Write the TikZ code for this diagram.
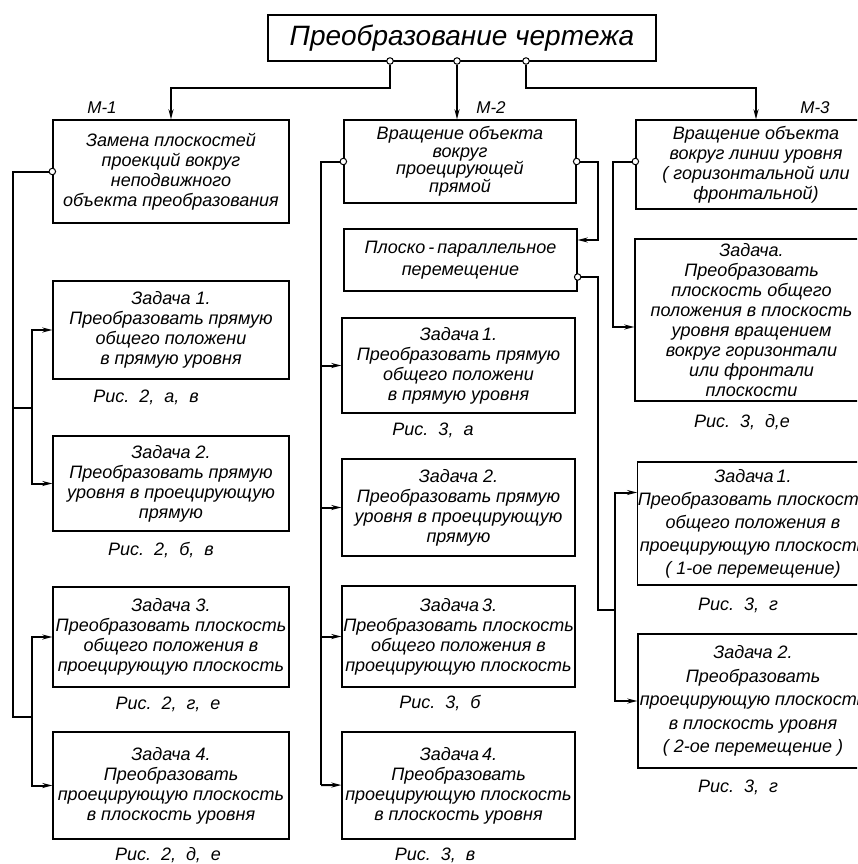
\documentclass[tikz,border=0pt]{standalone}
\usepackage{fontspec}
\setmainfont{Liberation Sans}
\usetikzlibrary{arrows.meta}

\begin{document}
\begin{tikzpicture}[
    x=1pt, y=-1pt,
    every node/.style={font=\itshape\fontsize{18}{20}\selectfont},
    box/.style={draw, line width=1.3pt, align=center, inner sep=0pt},
    joint/.style={circle, draw, fill=white, line width=1pt, inner sep=0pt, minimum size=6.5pt},
    link/.style={line width=2pt},
    arr/.style={link, -{Stealth[length=10pt,width=5pt]}},
    figref/.style={font=\itshape\fontsize{18}{20}\selectfont},
    lbl/.style={font=\itshape\fontsize{17}{20}\selectfont}
]
\clip (0,0) rectangle (857,864);

% title
\node[box, minimum width=388pt, minimum height=46pt, font=\itshape\fontsize{28}{30}\selectfont] (title) at (462,38) {Преобразование чертежа};

% methods
\node[box, minimum width=236pt, minimum height=103pt] (m1) at (171,171.5) {Замена плоскостей\\проекций вокруг\\неподвижного\\объекта преобразования};
\node[box, minimum width=232pt, minimum height=83pt, font=\itshape\fontsize{18}{17.5}\selectfont] (m2) at (460,161.5) {Вращение объекта\\вокруг\\проецирующей\\прямой};
\node[box, minimum width=240pt, minimum height=89pt] (m3) at (756,164.5) {Вращение объекта\\вокруг линии уровня\\( горизонтальной или\\фронтальной)};
\node[lbl] (l1) at (102,108) {М-1};
\node[lbl] (l2) at (491,108) {М-2};
\node[lbl] (l3) at (815,108) {М-3};

% M-1 tasks
\node[box, minimum width=236pt, minimum height=98pt] (lz1) at (171,330) {Задача 1.\\Преобразовать прямую\\общего положени\\в прямую уровня};
\node[box, minimum width=236pt, minimum height=95pt] (lz2) at (171,483.5) {Задача 2.\\Преобразовать прямую\\уровня в проецирующую\\прямую};
\node[box, minimum width=236pt, minimum height=100pt] (lz3) at (171,637) {Задача 3.\\Преобразовать плоскость\\общего положения в\\проецирующую плоскость};
\node[box, minimum width=236pt, minimum height=107pt] (lz4) at (171,785.5) {Задача 4.\\Преобразовать\\проецирующую плоскость\\в плоскость уровня};
\node[figref] (c1) at (146,397) {Рис.\ \ 2,\ \ а,\ \ в};
\node[figref] (c2) at (161,550) {Рис.\ \ 2,\ \ б,\ \ в};
\node[figref] (c3) at (168,704) {Рис.\ \ 2,\ \ г,\ \ е};
\node[figref] (c4) at (168,855) {Рис.\ \ 2,\ \ д,\ \ е};

% M-2 tasks
\node[box, minimum width=233pt, minimum height=62pt, font=\itshape\fontsize{18}{22}\selectfont] (pl) at (460.5,260) {Плоско\,-\,параллельное\\перемещение};
\node[box, minimum width=233pt, minimum height=95pt] (mz1) at (458.5,365.5) {Задача\,1.\\Преобразовать прямую\\общего положени\\в прямую уровня};
\node[box, minimum width=233pt, minimum height=97pt] (mz2) at (458.5,507.5) {Задача 2.\\Преобразовать прямую\\уровня в проецирующую\\прямую};
\node[box, minimum width=233pt, minimum height=101pt] (mz3) at (458.5,636.5) {Задача\,3.\\Преобразовать плоскость\\общего положения в\\проецирующую плоскость};
\node[box, minimum width=233pt, minimum height=107pt] (mz4) at (458.5,785.5) {Задача\,4.\\Преобразовать\\проецирующую плоскость\\в плоскость уровня};
\node[figref] (c5) at (433,430) {Рис.\ \ 3,\ \ а};
\node[figref] (c6) at (440,703) {Рис.\ \ 3,\ \ б};
\node[figref] (c7) at (435,855) {Рис.\ \ 3,\ \ в};

% M-3 tasks
\node[box, minimum width=233pt, minimum height=162pt] (qz) at (751.5,320) {Задача.\\Преобразовать\\плоскость общего\\положения в плоскость\\уровня вращением\\вокруг горизонтали\\или фронтали\\плоскости};
\node[box, minimum width=230pt, minimum height=123pt, font=\itshape\fontsize{18}{23}\selectfont] (rz1) at (753,523.5) {Задача\,1.\\Преобразовать плоскость\\общего положения в\\проецирующую плоскость\\( 1-ое перемещение)};
\node[box, minimum width=230pt, minimum height=134pt, font=\itshape\fontsize{18}{23.5}\selectfont] (rz2) at (753,701) {Задача 2.\\Преобразовать\\проецирующую плоскость\\в плоскость уровня\\( 2-ое перемещение )};
\node[figref] (c8) at (742,422) {Рис.\ \ 3,\ \ д,е};
\node[figref] (c9) at (738,605) {Рис.\ \ 3,\ \ г};
\node[figref] (c10) at (738,787) {Рис.\ \ 3,\ \ г};

% joints
\node[joint] (t1) at (390,61) {};
\node[joint] (t2) at (457,61) {};
\node[joint] (t3) at (526,61) {};
\node[joint] (m1d) at (m1.west) {};
\node[joint] (m2l) at (m2.west) {};
\node[joint] (m2r) at (m2.east) {};
\node[joint] (m3d) at (m3.west |- m2l) {};
\node[joint] (pld) at ([yshift=-17pt]pl.east) {};

% bus points
\coordinate (lk1) at (13,408);
\coordinate (lj1) at (32,408);
\coordinate (lk2) at (13,717);
\coordinate (lj2) at (32,717);
\coordinate (mb) at (321,785);
\coordinate (pk) at (598,240);
\coordinate (rb) at (598,610);
\coordinate (rj) at (615,610);

% title -> methods
\draw[arr] (t1) -- ++(0,27) -| (m1);
\draw[arr] (t2) -- (t2 |- m2.north);
\draw[arr] (t3) -- ++(0,27) -| (m3);

% M-1
\draw[link] (m1d) -| (lk2) -- (lj2);
\draw[link] (lk1) -- (lj1);
\draw[arr] (lj1) |- (lz1);
\draw[arr] (lj1) |- (lz2);
\draw[arr] (lj2) |- (lz3);
\draw[arr] (lj2) |- (lz4);

% M-2
\draw[link] (m2l) -| (mb);
\draw[arr] (mb) -- (mz4);
\draw[arr] (mb |- mz1) -- (mz1);
\draw[arr] (mb |- mz2) -- (mz2);
\draw[arr] (mb |- mz3) -- (mz3);
\draw[arr] (m2r) -| (pk) -- (pk -| pl.east);
\draw[link] (pld) -| (rb) -- (rj);
\draw[arr] (rj) |- ([yshift=31pt]rz1.west);
\draw[arr] (rj) |- (rz2);

% M-3
\draw[arr] (m3d) -| ([xshift=-21pt,yshift=-7pt]qz.west) -- ([yshift=-7pt]qz.west);
\end{tikzpicture}
\end{document}
